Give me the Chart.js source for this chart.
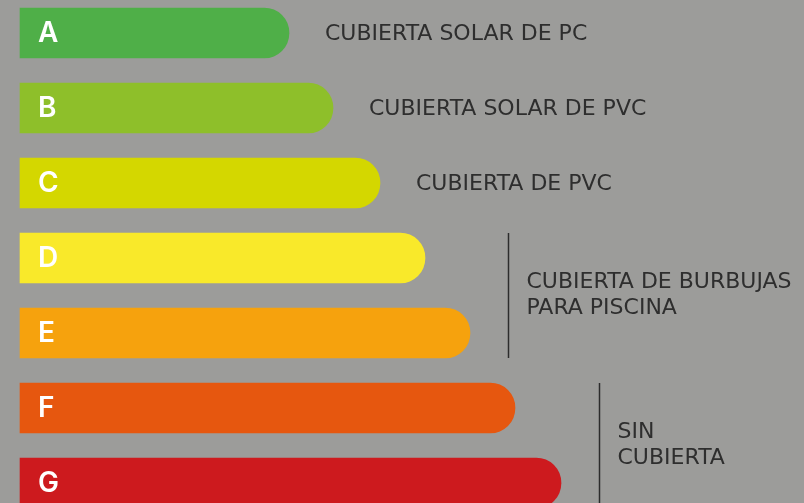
<!DOCTYPE html>
<html>
<head>
<meta charset="utf-8">
<script src="https://cdn.jsdelivr.net/npm/chart.js@4/dist/chart.umd.min.js"></script>
<style>
  html, body { margin: 0; padding: 0; background: #9c9c9a; overflow: hidden; }
  #wrap { position: absolute; left: 0; top: 0; width: 804px; height: 503px; }
</style>
</head>
<body>
<div id="wrap"><canvas id="c" width="804" height="503"></canvas></div>
<script>
const categories = ['A', 'B', 'C', 'D', 'E', 'F', 'G'];
const values = [269, 313, 360, 405, 450, 495, 541];
const barColors = ['#4faf48', '#8ebf2a', '#d4d700', '#f9e92a', '#f6a20d', '#e6570f', '#cd1a1e'];
const groupLabels = [
  ['CUBIERTA SOLAR DE PC'],
  ['CUBIERTA SOLAR DE PVC'],
  ['CUBIERTA DE PVC'],
  ['CUBIERTA DE BURBUJAS', 'PARA PISCINA'],
  ['SIN', 'CUBIERTA']
];
const groupFirst = [0, 1, 2, 3, 5];
const groupLast = [0, 1, 2, 4, 6];

const annotate = {
  id: 'annotate',
  beforeDraw(chart) {
    const ctx = chart.ctx;
    ctx.save();
    ctx.fillStyle = '#9c9c9a';
    ctx.fillRect(0, 0, chart.width, chart.height);
    ctx.restore();
  },
  afterDatasetsDraw(chart) {
    const ctx = chart.ctx;
    const meta = chart.getDatasetMeta(0);
    ctx.save();
    // letters inside bars
    ctx.fillStyle = '#ffffff';
    ctx.font = '600 28px "Inter"';
    ctx.textBaseline = 'middle';
    ctx.textAlign = 'left';
    meta.data.forEach((bar, i) => {
      ctx.fillText(categories[i], bar.base + 18, bar.y + 1);
    });
    // group labels
    ctx.fillStyle = '#2e2e2e';
    ctx.strokeStyle = '#2c2c2c';
    ctx.font = '400 22px "DejaVu Sans"';
    groupLabels.forEach((lines, g) => {
      const a = meta.data[groupFirst[g]];
      const b = meta.data[groupLast[g]];
      if (groupFirst[g] === groupLast[g]) {
        ctx.fillText(lines[0], a.x + 36, a.y + 1);
      } else {
        let maxX = 0;
        for (let k = groupFirst[g]; k <= groupLast[g]; k++) maxX = Math.max(maxX, meta.data[k].x);
        const lx = Math.round(maxX + 38) + 0.5;
        ctx.lineWidth = 1.5;
        ctx.beginPath();
        ctx.moveTo(lx, a.y - a.height / 2);
        ctx.lineTo(lx, b.y + b.height / 2);
        ctx.stroke();
        const cy = (a.y + b.y) / 2;
        const lh = 26;
        lines.forEach((t, j) => {
          ctx.fillText(t, lx + 18, cy + (j - (lines.length - 1) / 2) * lh);
        });
      }
    });
    ctx.restore();
  }
};

new Chart(document.getElementById('c'), {
  type: 'bar',
  data: {
    labels: categories,
    datasets: [{
      data: values,
      backgroundColor: barColors,
      barThickness: 50,
      borderSkipped: false,
      borderRadius: { topLeft: 0, bottomLeft: 0, topRight: 25, bottomRight: 25 },
      clip: false
    }]
  },
  options: {
    indexAxis: 'y',
    responsive: false,
    animation: false,
    devicePixelRatio: 1,
    layout: { padding: { left: 20, right: 0, top: 33, bottom: 20 } },
    plugins: { legend: { display: false }, tooltip: { enabled: false } },
    scales: {
      x: { display: false, min: 0, max: 784 },
      y: { display: false, offset: false }
    }
  },
  plugins: [annotate]
});
</script>
</body>
</html>
